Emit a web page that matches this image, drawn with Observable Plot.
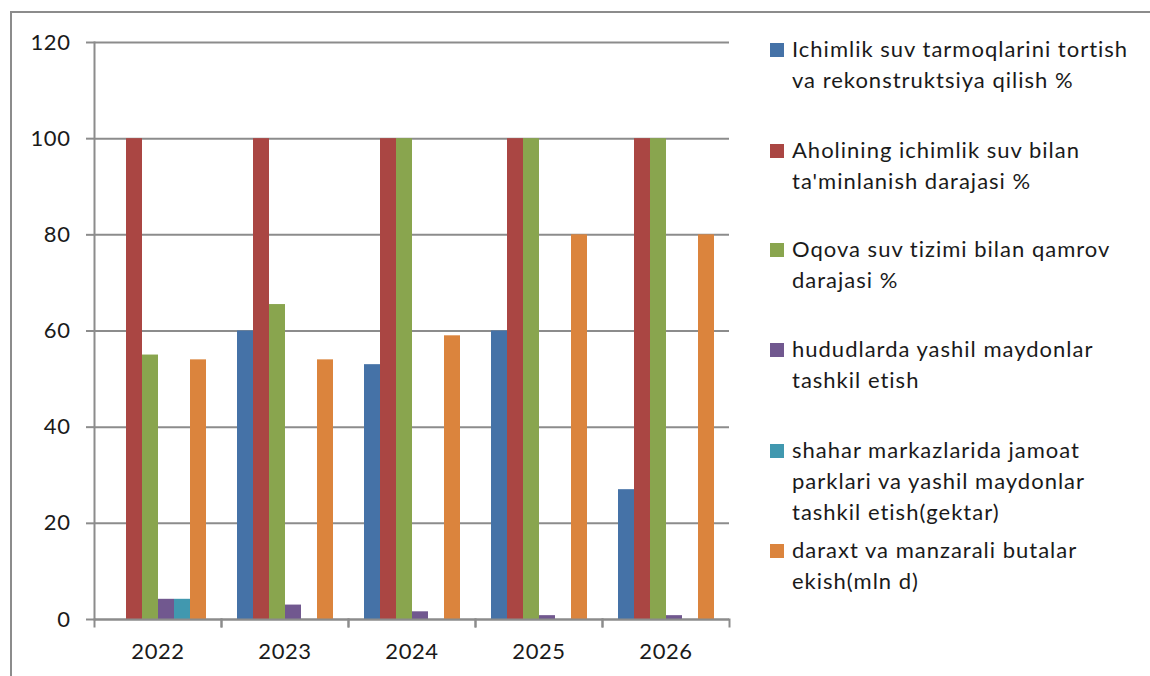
<!DOCTYPE html>
<html><head><meta charset="utf-8">
<script src="https://cdn.jsdelivr.net/npm/d3@7"></script>
<script src="https://cdn.jsdelivr.net/npm/@observablehq/plot@0.6"></script>
<style>
body{margin:0;background:#fff;}
#wrap{position:relative;width:1150px;height:676px;overflow:hidden;font-family:Lato,sans-serif;color:#1a1a1a;}
#border{position:absolute;left:10px;top:11px;width:1300px;height:800px;border-left:2px solid #8c8c8c;border-top:2px solid #8c8c8c;}
#chart{position:absolute;left:0;top:0;}
#chart svg text{letter-spacing:0.6px;}
#legend{position:absolute;left:770px;top:0;}
.item{position:absolute;left:0;white-space:nowrap;}
.sw{position:absolute;left:0;width:14px;height:14px;}
.tx{position:absolute;left:22px;top:0;font-size:22px;line-height:31px;white-space:pre;letter-spacing:1px;}
</style></head>
<body><div id="wrap"><div id="border"></div><div id="chart"></div><div id="legend"></div></div>
<script>
const years = ["2022","2023","2024","2025","2026"];
const seriesNames = [
  "Ichimlik suv tarmoqlarini tortish\nva rekonstruktsiya qilish %",
  "Aholining ichimlik suv bilan\nta'minlanish darajasi %",
  "Oqova suv tizimi bilan qamrov\ndarajasi %",
  "hududlarda yashil maydonlar\ntashkil etish",
  "shahar markazlarida jamoat\nparklari va yashil maydonlar\ntashkil etish(gektar)",
  "daraxt va manzarali butalar\nekish(mln d)"
];
const seriesColors = ["#4572A7","#AA4643","#89A54E","#71588F","#4198AF","#DB843D"];
const ichimlik = [null, 60, 53, 60, 27];
const aholi = [100, 100, 100, 100, 100];
const oqova = [55, 65.5, 100, 100, 100];
const hududlar = [4.2, 3, 1.6, 0.8, 0.8];
const shahar = [4.2, null, null, null, null];
const daraxt = [54, 54, 59, 80, 80];
const yTicks = [0, 20, 40, 60, 80, 100, 120];

const seriesValues = [ichimlik, aholi, oqova, hududlar, shahar, daraxt];
const rows = [];
years.forEach((yr, i) => seriesValues.forEach((vals, s) => {
  if (vals[i] != null) rows.push({year: yr, series: seriesNames[s], value: vals[i]});
}));

const H = 676, mt = 42, mb = 57;
const inner = H - mt - mb;
const grey = "#8c8c8c";

const chart = Plot.plot({
  width: 1150, height: H,
  marginLeft: 94, marginRight: 421, marginTop: mt, marginBottom: mb,
  style: {fontFamily: "Lato, sans-serif", fontSize: "22px", color: "#1a1a1a", background: "transparent", overflow: "visible"},
  fx: {domain: years, padding: 0, label: null},
  x: {domain: seriesNames, paddingInner: 0, paddingOuter: 0.8, axis: null},
  y: {domain: [0, 120], label: null},
  color: {domain: seriesNames, range: seriesColors},
  marks: [
    Plot.gridY(yTicks, {stroke: grey, strokeOpacity: 1, strokeWidth: 2}),
    Plot.barY(rows, {fx: "year", x: "series", y: "value", fill: "series"}),
    Plot.ruleY([0], {stroke: grey, strokeWidth: 2}),
    Plot.frame({anchor: "left", stroke: grey, strokeWidth: 2, insetTop: inner, insetBottom: -7}),
    Plot.frame({anchor: "right", stroke: grey, strokeWidth: 2, insetTop: inner, insetBottom: -7}),
    Plot.frame({anchor: "left", stroke: grey, strokeWidth: 2, facet: "super"}),
    Plot.axisY(yTicks, {tickSize: 8, tickPadding: 16, stroke: grey, strokeWidth: 2, fontSize: 22, label: null}),
    Plot.axisFx({anchor: "bottom", tickSize: 0, tickPadding: 24, fontSize: 22, label: null})
  ]
});
document.getElementById("chart").appendChild(chart);

const legendTops = [33, 134, 233, 333, 434, 534];
const legend = document.getElementById("legend");
seriesNames.forEach((name, i) => {
  const it = document.createElement("div");
  it.className = "item";
  it.style.top = legendTops[i] + "px";
  const sw = document.createElement("div");
  sw.className = "sw";
  sw.style.background = seriesColors[i];
  sw.style.top = "10px";
  const tx = document.createElement("div");
  tx.className = "tx";
  tx.textContent = name;
  it.appendChild(sw); it.appendChild(tx);
  legend.appendChild(it);
});
</script></body></html>
